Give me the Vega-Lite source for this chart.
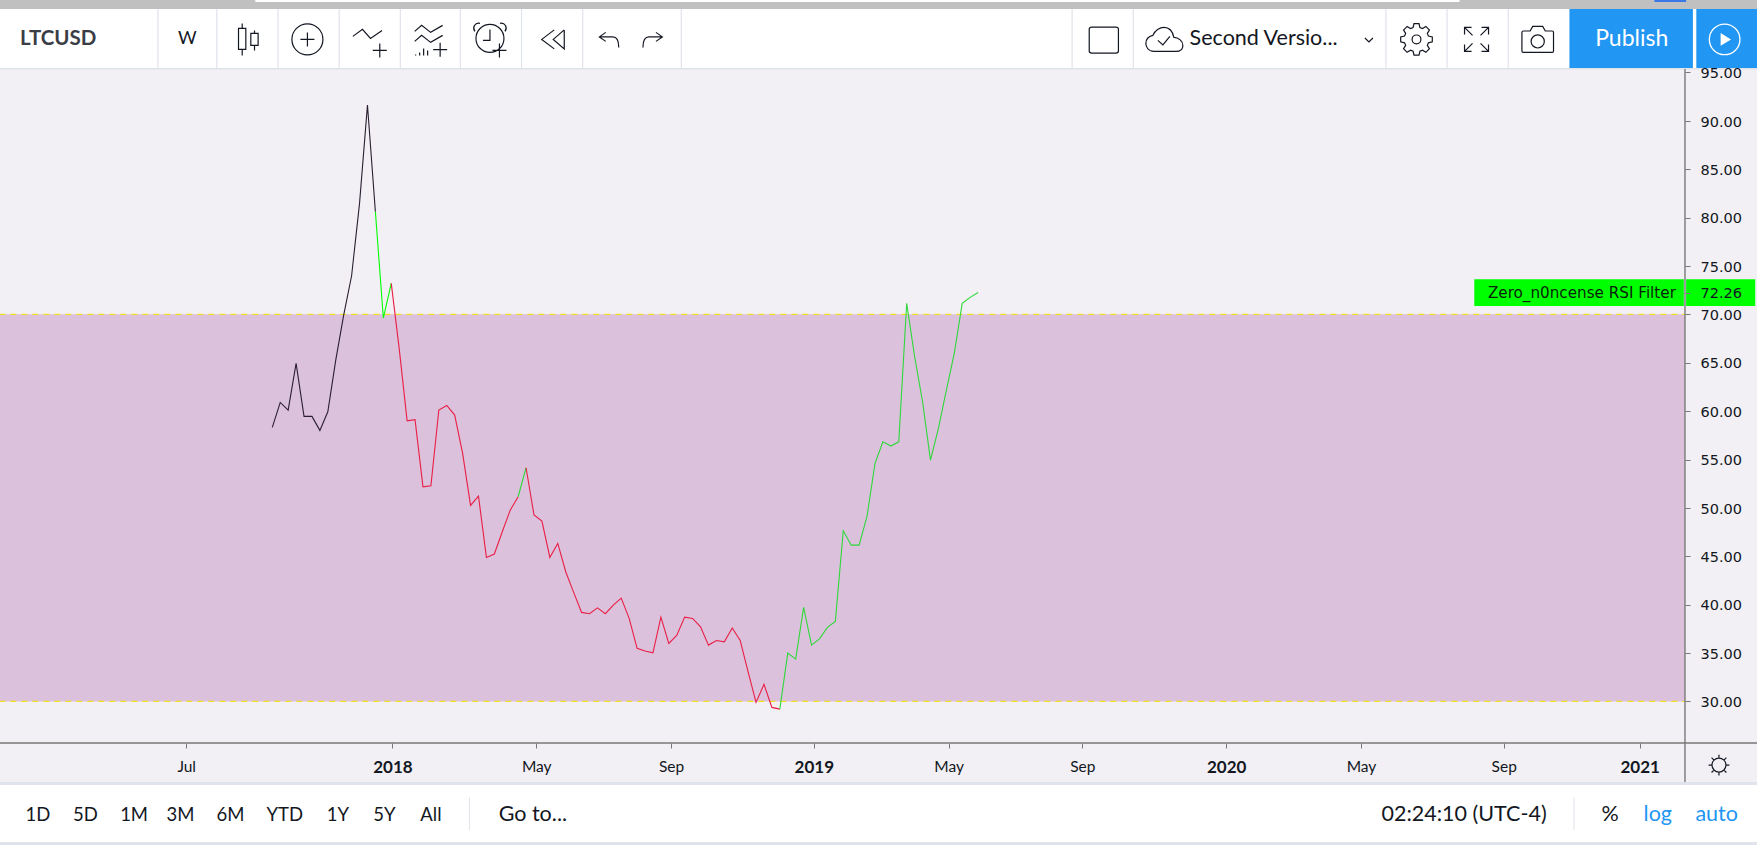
{"$schema":"https://vega.github.io/schema/vega-lite/v6.json","width":1757,"height":845,"autosize":"none","padding":0,"background":"#f2f0f4","config":{"view":{"stroke":null}},
"resolve":{"scale":{"color":"independent","shape":"independent"}},
"encoding":{"x":{"field":"date","type":"temporal","scale":{"type":"utc","domain":[1484924832000,1618926048000],"nice":false},"axis":{"orient":"bottom","offset":-102,"title":null,"grid":false,"domain":false,"tickSize":5,"tickColor":"#787878","labelPadding":11,"labelFont":"Lato","labelColor":"#131722","labelOverlap":false,"labelBound":false,"labelFlush":false,"zindex":1,"values":[{"year":2017,"month":7,"date":4,"utc":true},{"year":2018,"month":1,"date":2,"utc":true},{"year":2018,"month":5,"date":9,"utc":true},{"year":2018,"month":9,"date":5,"utc":true},{"year":2019,"month":1,"date":9,"utc":true},{"year":2019,"month":5,"date":8,"utc":true},{"year":2019,"month":9,"date":3,"utc":true},{"year":2020,"month":1,"date":8,"utc":true},{"year":2020,"month":5,"date":6,"utc":true},{"year":2020,"month":9,"date":9,"utc":true},{"year":2021,"month":1,"date":7,"utc":true}],"labelExpr":"utcFormat(datum.value, utcmonth(datum.value)==0 ? '%Y' : '%b')","labelFontWeight":{"condition":{"test":"utcmonth(datum.value)==0","value":"bold"},"value":"normal"},"labelFontSize":{"condition":{"test":"utcmonth(datum.value)==0","value":17},"value":15.5}}},
"y":{"field":"level","type":"quantitative","scale":{"domain":[15.16,102.49],"nice":false,"zero":false},"axis":{"orient":"right","offset":-72,"title":null,"grid":false,"domain":false,"tickSize":5,"tickColor":"#787878","labelPadding":10,"labelFont":"DejaVu Sans","labelFontSize":14.5,"labelColor":"#131722","labelOffset":1.2,"format":".2f","labelOverlap":false,"labelBound":false,"labelFlush":false,"zindex":1,"values":[30,35,40,45,50,55,60,65,70,72.26,75,80,85,90,95]}}},
"layer":[
{"data":{"values":[
{"part":"band","date":"2017-01-20","dateEnd":"2021-02-16","level":70,"levelEnd":30},
{"part":"frame","date":"2017-01-20","dateEnd":"2021-04-22","level":102.49,"levelEnd":101.56},
{"part":"panel","date":"2017-09-03","dateEnd":"2020-08-01","level":102.49,"levelEnd":102.28},
{"part":"tab","date":"2021-01-20","dateEnd":"2021-02-17","level":102.49,"levelEnd":102.28},
{"part":"panel","date":"2017-01-20","dateEnd":"2021-04-22","level":101.56,"levelEnd":95.46},
{"part":"edge","date":"2017-01-20","dateEnd":"2021-04-22","level":95.46,"levelEnd":95.3},
{"part":"action","date":"2020-11-06","dateEnd":"2021-02-23","level":101.56,"levelEnd":95.46},
{"part":"action","date":"2021-02-26","dateEnd":"2021-04-22","level":101.56,"levelEnd":95.46},
{"part":"edge","date":"2017-01-20","dateEnd":"2021-04-22","level":21.66,"levelEnd":21.36},
{"part":"panel","date":"2017-01-20","dateEnd":"2021-04-22","level":21.36,"levelEnd":15.46},
{"part":"edge","date":"2017-01-20","dateEnd":"2021-04-22","level":15.46,"levelEnd":15.16},
{"part":"tag","date":"2020-08-14","dateEnd":"2021-02-15","level":73.62,"levelEnd":70.86},
{"part":"tag","date":"2021-02-17","dateEnd":"2021-04-19","level":73.62,"levelEnd":70.86}
],"format":{"parse":{"date":"date","dateEnd":"date"}}},
"mark":{"type":"rect"},
"encoding":{"x2":{"field":"dateEnd"},"y2":{"field":"levelEnd"},"color":{"field":"part","type":"nominal","legend":null,"scale":{"domain":["band","frame","panel","tab","edge","action","tag"],"range":["#dbc1dc","#c0c0c0","#ffffff","#3b78e7","#e0e3eb","#2196f3","#00ff00"]}}}},
{"data":{"values":[{"date":"2017-01-20","dateEnd":"2021-02-16","level":70},{"date":"2017-01-20","dateEnd":"2021-02-16","level":30}],"format":{"parse":{"date":"date","dateEnd":"date"}}},
"mark":{"type":"rule","color":"#f2e01e","strokeWidth":1.2,"strokeDash":[6,5]},"encoding":{"x2":{"field":"dateEnd"}}},
{"data":{"values":[{"date":"2017-01-20","dateEnd":"2021-04-22","level":25.7}],"format":{"parse":{"date":"date","dateEnd":"date"}}},
"mark":{"type":"rule","color":"#787878","strokeWidth":1.6},"encoding":{"x2":{"field":"dateEnd"}}},
{"data":{"values":[{"date":"2021-02-16","level":95.35,"levelEnd":21.66}]},
"mark":{"type":"rule","color":"#787878","strokeWidth":1.4},"encoding":{"y2":{"field":"levelEnd"}}},
{"data":{"values":[
{"date":"2017-06-09","level":101.56,"levelEnd":95.46},{"date":"2017-07-31","level":101.56,"levelEnd":95.46},{"date":"2017-09-23","level":101.56,"levelEnd":95.46},{"date":"2017-11-16","level":101.56,"levelEnd":95.46},{"date":"2018-01-09","level":101.56,"levelEnd":95.46},{"date":"2018-03-03","level":101.56,"levelEnd":95.46},{"date":"2018-04-26","level":101.56,"levelEnd":95.46},{"date":"2018-06-19","level":101.56,"levelEnd":95.46},{"date":"2018-09-14","level":101.56,"levelEnd":95.46},{"date":"2019-08-25","level":101.56,"levelEnd":95.46},{"date":"2019-10-18","level":101.56,"levelEnd":95.46},{"date":"2020-05-28","level":101.56,"levelEnd":95.46},{"date":"2020-07-21","level":101.56,"levelEnd":95.46},{"date":"2020-09-13","level":101.56,"levelEnd":95.46}
]},
"mark":{"type":"rule","color":"#e0e3eb","strokeWidth":1.2},"encoding":{"y2":{"field":"levelEnd"}}},
{"data":{"values":[{"date":"2018-03-11","level":20.1,"levelEnd":16.7},{"date":"2020-11-10","level":20.1,"levelEnd":16.7}]},
"mark":{"type":"rule","color":"#e0e3eb","strokeWidth":1},"encoding":{"y2":{"field":"levelEnd"}}},
{"data":{"values":[
{"run":"a","state":"base","date":"2017-09-18","level":58.32},{"run":"a","state":"base","date":"2017-09-25","level":60.9},{"run":"a","state":"base","date":"2017-10-02","level":60.11},{"run":"a","state":"base","date":"2017-10-09","level":64.94},{"run":"a","state":"base","date":"2017-10-16","level":59.46},{"run":"a","state":"base","date":"2017-10-23","level":59.46},{"run":"a","state":"base","date":"2017-10-30","level":58.01},{"run":"a","state":"base","date":"2017-11-06","level":59.93},{"run":"a","state":"base","date":"2017-11-13","level":65.28},{"run":"a","state":"base","date":"2017-11-20","level":69.93},{"run":"a","state":"base","date":"2017-11-27","level":73.99},{"run":"a","state":"base","date":"2017-12-04","level":81.47},{"run":"a","state":"base","date":"2017-12-11","level":91.63},{"run":"a","state":"base","date":"2017-12-18","level":80.61},
{"run":"b","state":"up","date":"2017-12-18","level":80.61},{"run":"b","state":"up","date":"2017-12-25","level":69.62},{"run":"b","state":"up","date":"2018-01-01","level":73.2},
{"run":"c","state":"down","date":"2018-01-01","level":73.2},{"run":"c","state":"down","date":"2018-01-08","level":66.49},{"run":"c","state":"down","date":"2018-01-15","level":59.0},{"run":"c","state":"down","date":"2018-01-22","level":59.11},{"run":"c","state":"down","date":"2018-01-29","level":52.18},{"run":"c","state":"down","date":"2018-02-05","level":52.28},{"run":"c","state":"down","date":"2018-02-12","level":60.11},{"run":"c","state":"down","date":"2018-02-19","level":60.59},{"run":"c","state":"down","date":"2018-02-26","level":59.59},{"run":"c","state":"down","date":"2018-03-05","level":55.63},{"run":"c","state":"down","date":"2018-03-12","level":50.26},{"run":"c","state":"down","date":"2018-03-19","level":51.22},{"run":"c","state":"down","date":"2018-03-26","level":44.88},{"run":"c","state":"down","date":"2018-04-02","level":45.23},{"run":"c","state":"down","date":"2018-04-09","level":47.53},{"run":"c","state":"down","date":"2018-04-16","level":49.77},{"run":"c","state":"down","date":"2018-04-23","level":51.15},
{"run":"d","state":"rise","date":"2018-04-23","level":51.15},{"run":"d","state":"rise","date":"2018-04-30","level":54.15},
{"run":"e","state":"down","date":"2018-04-30","level":54.15},{"run":"e","state":"down","date":"2018-05-07","level":49.26},{"run":"e","state":"down","date":"2018-05-14","level":48.64},{"run":"e","state":"down","date":"2018-05-21","level":44.88},{"run":"e","state":"down","date":"2018-05-28","level":46.33},{"run":"e","state":"down","date":"2018-06-04","level":43.4},{"run":"e","state":"down","date":"2018-06-11","level":41.27},{"run":"e","state":"down","date":"2018-06-18","level":39.2},{"run":"e","state":"down","date":"2018-06-25","level":39.06},{"run":"e","state":"down","date":"2018-07-02","level":39.67},{"run":"e","state":"down","date":"2018-07-09","level":39.06},{"run":"e","state":"down","date":"2018-07-16","level":39.95},{"run":"e","state":"down","date":"2018-07-23","level":40.67},{"run":"e","state":"down","date":"2018-07-30","level":38.58},{"run":"e","state":"down","date":"2018-08-06","level":35.48},{"run":"e","state":"down","date":"2018-08-13","level":35.2},{"run":"e","state":"down","date":"2018-08-20","level":35.02},{"run":"e","state":"down","date":"2018-08-27","level":38.71},{"run":"e","state":"down","date":"2018-09-03","level":35.99},{"run":"e","state":"down","date":"2018-09-10","level":36.82},{"run":"e","state":"down","date":"2018-09-17","level":38.71},{"run":"e","state":"down","date":"2018-09-24","level":38.58},{"run":"e","state":"down","date":"2018-10-01","level":37.71},{"run":"e","state":"down","date":"2018-10-08","level":35.82},{"run":"e","state":"down","date":"2018-10-15","level":36.3},{"run":"e","state":"down","date":"2018-10-22","level":36.16},{"run":"e","state":"down","date":"2018-10-29","level":37.58},{"run":"e","state":"down","date":"2018-11-05","level":36.3},{"run":"e","state":"down","date":"2018-11-12","level":33.06},{"run":"e","state":"down","date":"2018-11-19","level":29.9},{"run":"e","state":"down","date":"2018-11-26","level":31.76},{"run":"e","state":"down","date":"2018-12-03","level":29.38},{"run":"e","state":"down","date":"2018-12-10","level":29.2},
{"run":"f","state":"rise","date":"2018-12-10","level":29.2},{"run":"f","state":"rise","date":"2018-12-17","level":34.99},{"run":"f","state":"rise","date":"2018-12-24","level":34.37},{"run":"f","state":"rise","date":"2018-12-31","level":39.72},{"run":"f","state":"rise","date":"2019-01-07","level":35.82},{"run":"f","state":"rise","date":"2019-01-14","level":36.47},{"run":"f","state":"rise","date":"2019-01-21","level":37.65},{"run":"f","state":"rise","date":"2019-01-28","level":38.27},{"run":"f","state":"rise","date":"2019-02-04","level":47.63},{"run":"f","state":"rise","date":"2019-02-11","level":46.15},{"run":"f","state":"rise","date":"2019-02-18","level":46.15},{"run":"f","state":"rise","date":"2019-02-25","level":49.15},{"run":"f","state":"rise","date":"2019-03-04","level":54.6},{"run":"f","state":"rise","date":"2019-03-11","level":56.83},{"run":"f","state":"rise","date":"2019-03-18","level":56.39},{"run":"f","state":"rise","date":"2019-03-25","level":56.83},{"run":"f","state":"rise","date":"2019-04-01","level":71.14},{"run":"f","state":"rise","date":"2019-04-08","level":65.62},{"run":"f","state":"rise","date":"2019-04-15","level":60.97},{"run":"f","state":"rise","date":"2019-04-22","level":54.94},{"run":"f","state":"rise","date":"2019-04-29","level":58.22},{"run":"f","state":"rise","date":"2019-05-06","level":62.18},{"run":"f","state":"rise","date":"2019-05-13","level":65.97},{"run":"f","state":"rise","date":"2019-05-20","level":71.14},{"run":"f","state":"rise","date":"2019-05-27","level":71.76},{"run":"f","state":"rise","date":"2019-06-03","level":72.26}
]},"mark":{"type":"line","strokeWidth":1.1},
"encoding":{"detail":{"field":"run"},"color":{"field":"state","type":"nominal","legend":null,"scale":{"domain":["base","up","rise","down"],"range":["#2a1f30","#00ff00","#2fd83a","#ea1e44"]}}}},
{"data":{"values":[{"label":"LTCUSD","date":"2017-03-13","level":98.42}]},"mark":{"type":"text","font":"Lato","fontSize":20.5,"fontWeight":"bold","color":"#3a3d45","align":"center","baseline":"middle"},"encoding":{"text":{"field":"label"}}},
{"data":{"values":[{"label":"Second Versio...","date":"2020-02-10","level":98.42}]},"mark":{"type":"text","font":"Lato","fontSize":21.5,"color":"#131722","align":"center","baseline":"middle"},"encoding":{"text":{"field":"label"}}},
{"data":{"values":[{"label":"W","date":"2017-07-05","level":98.42}]},"mark":{"type":"text","font":"Lato","fontSize":18,"color":"#131722","align":"center","baseline":"middle"},"encoding":{"text":{"field":"label"}}},
{"data":{"values":[{"label":"Publish","date":"2020-12-31","level":98.42}]},"mark":{"type":"text","font":"Lato","fontSize":23,"color":"#ffffff","align":"center","baseline":"middle"},"encoding":{"text":{"field":"label"}}},
{"data":{"values":[
{"label":"1D","date":"2017-02-23","level":18.25},{"label":"5D","date":"2017-04-06","level":18.25},{"label":"1M","date":"2017-05-19","level":18.25},{"label":"3M","date":"2017-06-29","level":18.25},{"label":"6M","date":"2017-08-12","level":18.25},{"label":"YTD","date":"2017-09-29","level":18.25},{"label":"1Y","date":"2017-11-15","level":18.25},{"label":"5Y","date":"2017-12-26","level":18.25},{"label":"All","date":"2018-02-05","level":18.25}
]},"mark":{"type":"text","font":"Lato","fontSize":18.5,"color":"#131722","align":"center","baseline":"middle"},"encoding":{"text":{"field":"label"}}},
{"data":{"values":[{"label":"Go to...","date":"2018-05-06","level":18.25},{"label":"02:24:10 (UTC-4)","date":"2020-08-05","level":18.25},{"label":"%","date":"2020-12-12","level":18.25}
]},"mark":{"type":"text","font":"Lato","fontSize":21.5,"color":"#131722","align":"center","baseline":"middle"},"encoding":{"text":{"field":"label"}}},
{"data":{"values":[{"label":"log","date":"2021-01-23","level":18.25},{"label":"auto","date":"2021-03-16","level":18.25}]},"mark":{"type":"text","font":"Lato","fontSize":21.5,"color":"#2196f3","align":"center","baseline":"middle"},"encoding":{"text":{"field":"label"}}},
{"data":{"values":[{"label":"Zero_n0ncense RSI Filter","date":"2020-11-17","level":72.26}]},"mark":{"type":"text","font":"DejaVu Sans","fontSize":15.2,"color":"#0b1f0b","align":"center","baseline":"middle"},"encoding":{"text":{"field":"label"}}},
{"data":{"values":[
{"icon":"candles","date":"2017-08-28","level":98.42},{"icon":"addCircle","date":"2017-10-19","level":98.42},{"icon":"indicator","date":"2017-12-11","level":98.42},{"icon":"templates","date":"2018-02-03","level":98.42},{"icon":"alarm","date":"2018-03-30","level":98.42},{"icon":"rewind","date":"2018-05-24","level":98.42},{"icon":"undo","date":"2018-07-12","level":98.42},{"icon":"redo","date":"2018-08-20","level":98.42},{"icon":"square","date":"2019-09-22","level":98.35},{"icon":"cloud","date":"2019-11-14","level":98.42},{"icon":"chevron","date":"2020-05-13","level":98.42},{"icon":"gear","date":"2020-06-24","level":98.42},{"icon":"expand","date":"2020-08-16","level":98.42},{"icon":"camera","date":"2020-10-09","level":98.42},{"icon":"sun","date":"2021-03-18","level":23.42}
]},"mark":{"type":"point","filled":false,"size":1600,"strokeWidth":1.2,"opacity":1,"color":"#131722"},
"encoding":{"shape":{"field":"icon","type":"nominal","legend":null,"scale":{"domain":["candles","addCircle","indicator","templates","alarm","rewind","undo","redo","square","cloud","chevron","gear","expand","camera","sun"],"range":[
"M-.5 -.55H-.135V.5H-.5Z M-.315 -.8V-.55 M-.315 .5V.8 M.115 -.3H.48V.3H.115Z M.3 -.45V-.3 M.3 .3V.55",
"M.775 0C.775 .428 .428 .775 0 .775C-.428 .775 -.775 .428 -.775 0C-.775 -.428 -.428 -.775 0 -.775C.428 -.775 .775 -.428 .775 0Z M-.35 0H.35 M0 -.35V.35",
"M-.73 -.15L-.25 -.5L.15 -.05L.73 -.45 M.265 .55H.965 M.615 .2V.9",
"M-.7 -.4L-.35 -.7L.1 -.35L.7 -.7 M-.7 .1L-.35 -.2L.1 .15L.7 -.2 M-.65 .75V.8 M-.45 .65V.8 M-.25 .45V.8 M-.05 .55V.8 M.225 .515H.925 M.575 .165V.865",
"M.65 -.05C.65 .337 .337 .65 -.05 .65C-.437 .65 -.75 .337 -.75 -.05C-.75 -.437 -.437 -.75 -.05 -.75C.337 -.75 .65 -.437 .65 -.05Z M-.05 -.5V.05H-.4 M-.55 -.8C-.8 -.85 -.95 -.6 -.8 -.4 M.45 -.8C.7 -.85 .85 -.6 .7 -.4 M.075 .55H.775 M.425 .2V.9",
"M.05 -.475L-.575 0L.05 .475 M.55 -.475L0 0L.55 .475V-.475",
"M-.15 -.35L-.47 -.125L-.15 .1 M-.47 -.125H.2C.4 -.125 .5 .05 .5 .4",
"M.15 -.35L.47 -.125L.15 .1 M.47 -.125H-.2C-.4 -.125 -.5 .05 -.5 .4",
"M-.6 -.65H.6C.69 -.65 .73 -.6 .73 -.55V.55C.73 .6 .69 .65 .6 .65H-.6C-.69 .65 -.73 .6 -.73 .55V-.55C-.73 -.6 -.69 -.65 -.6 -.65Z",
"M-.5 .6C-.8 .6 -.9 .35 -.9 .2C-.9 0 -.75 -.15 -.55 -.2C-.45 -.45 -.2 -.6 0 -.6C.3 -.6 .45 -.35 .5 -.1C.75 -.1 .95 .1 .95 .3C.95 .5 .8 .6 .6 .6Z M-.3 .05L-.05 .28L.3 -.15",
"M-.2 -.07L0 .13L.2 -.07",
"M.79 -.125L.79 .125L.596 .171L.542 .30L.647 .47L.47 .647L.30 .542L.171 .596L.125 .79L-.125 .79L-.171 .596L-.30 .542L-.47 .647L-.647 .47L-.542 .30L-.596 .171L-.79 .125L-.79 -.125L-.596 -.171L-.542 -.30L-.647 -.47L-.47 -.647L-.30 -.542L-.171 -.596L-.125 -.79L.125 -.79L.171 -.596L.30 -.542L.47 -.647L.647 -.47L.542 -.30L.596 -.171Z M.22 0C.22 .122 .122 .22 0 .22C-.122 .22 -.22 .122 -.22 0C-.22 -.122 -.122 -.22 0 -.22C.122 -.22 .22 -.122 .22 0Z",
"M-.6 -.25V-.6H-.25 M-.6 -.6L-.2 -.2 M.6 -.25V-.6H.25 M.6 -.6L.2 -.2 M-.6 .25V.6H-.25 M-.6 .6L-.2 .2 M.6 .25V.6H.25 M.6 .6L.2 .2",
"M-.72 -.42H-.38L-.25 -.65H.25L.38 -.42H.72C.76 -.42 .79 -.39 .79 -.35V.58C.79 .62 .76 .65 .72 .65H-.72C-.76 .65 -.79 .62 -.79 .58V-.35C-.79 -.39 -.76 -.42 -.72 -.42Z M.33 .1C.33 .28 .18 .43 0 .43C-.18 .43 -.33 .28 -.33 .1C-.33 -.08 -.18 -.23 0 -.23C.18 -.23 .33 -.08 .33 .1Z",
"M.35 0C.35 .193 .193 .35 0 .35C-.193 .35 -.35 .193 -.35 0C-.35 -.193 -.193 -.35 0 -.35C.193 -.35 .35 -.193 .35 0Z M.35 0H.52 M-.35 0H-.52 M0 .35V.52 M0 -.35V-.52 M.25 .25L.37 .37 M-.25 .25L-.37 .37 M.25 -.25L.37 -.37 M-.25 -.25L-.37 -.37"
]}}}},
{"data":{"values":[{"date":"2021-03-23","level":98.42}]},"mark":{"type":"point","filled":false,"size":1600,"strokeWidth":1.3,"opacity":1,"color":"#ffffff","shape":"M.765 0C.765 .4225 .4225 .765 0 .765C-.4225 .765 -.765 .4225 -.765 0C-.765 -.4225 -.4225 -.765 0 -.765C.4225 -.765 .765 -.4225 .765 0Z"}},
{"data":{"values":[{"date":"2021-03-23","level":98.42}]},"mark":{"type":"point","filled":true,"size":1600,"opacity":1,"color":"#ffffff","shape":"M-.2 -.32L.32 0L-.2 .32Z"}}
]}
